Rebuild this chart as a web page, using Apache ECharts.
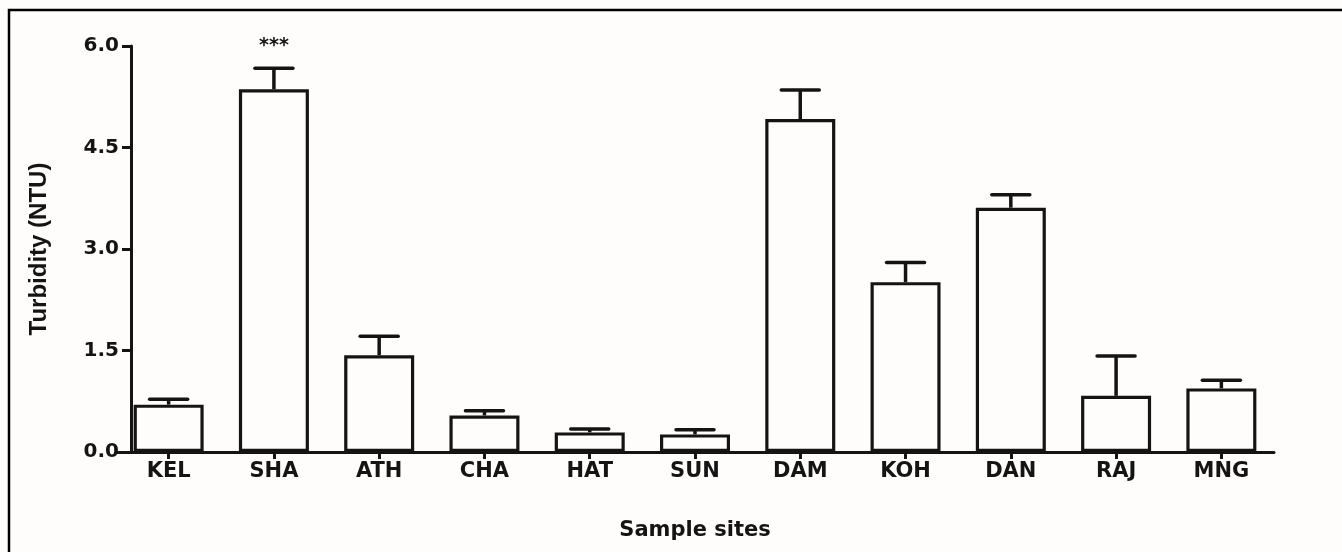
<!DOCTYPE html>
<html>
<head>
<meta charset="utf-8">
<script src="https://cdn.jsdelivr.net/npm/echarts@6/dist/echarts.min.js"></script>
<style>
  html, body { margin: 0; padding: 0; background: #fefdfb; }
  #chart { width: 1342px; height: 552px; }
</style>
</head>
<body>
<div id="chart"></div>
<script>
const categories = ['KEL', 'SHA', 'ATH', 'CHA', 'HAT', 'SUN', 'DAM', 'KOH', 'DAN', 'RAJ', 'MNG'];
const turbidity = [0.70, 5.36, 1.43, 0.54, 0.29, 0.26, 4.92, 2.51, 3.61, 0.83, 0.94];
const errors = [0.08, 0.31, 0.28, 0.07, 0.05, 0.07, 0.43, 0.29, 0.19, 0.59, 0.12];
const significance = ['', '***', '', '', '', '', '', '', '', '', ''];
const yTicks = [0, 1.5, 3.0, 4.5, 6.0];

const ink = '#141414';
const wideFont = 'DejaVu Sans';

const errData = categories.map((c, i) => [i, turbidity[i], errors[i], significance[i]]);

const chart = echarts.init(document.getElementById('chart'));
chart.setOption({
  backgroundColor: '#fefdfb',
  animation: false,
  graphic: [{
    type: 'rect',
    shape: { x: 9, y: 10, width: 1400, height: 600 },
    style: { fill: 'none', stroke: '#000', lineWidth: 2.5 },
    silent: true
  }],
  grid: { left: 116, right: 68, top: 46, bottom: 100, containLabel: false },
  xAxis: {
    type: 'category',
    data: categories,
    name: 'Sample sites',
    nameLocation: 'middle',
    nameGap: 68,
    nameTextStyle: { fontFamily: wideFont, fontWeight: 'bold', fontSize: 21, color: ink },
    axisLine: { lineStyle: { color: ink, width: 3 } },
    axisTick: { show: true, alignWithLabel: true, length: 7, lineStyle: { color: ink, width: 3 } },
    axisLabel: { fontFamily: wideFont, fontWeight: 'bold', fontSize: 21, color: ink, margin: 9 },
    splitLine: { show: false }
  },
  yAxis: {
    type: 'value',
    min: yTicks[0],
    max: yTicks[yTicks.length - 1],
    interval: yTicks[1] - yTicks[0],
    offset: -15,
    name: 'Turbidity (NTU)',
    nameLocation: 'middle',
    nameGap: 80,
    nameRotate: 90,
    nameTextStyle: { fontFamily: 'Liberation Sans', fontWeight: 'bold', fontSize: 24, color: ink },
    axisLine: { show: true, lineStyle: { color: ink, width: 3 } },
    axisTick: { show: true, length: 9, lineStyle: { color: ink, width: 3 } },
    axisLabel: {
      fontFamily: wideFont, fontWeight: 'bold', fontSize: 20, color: ink, margin: 12,
      formatter: v => v.toFixed(1)
    },
    splitLine: { show: false }
  },
  series: [
    {
      type: 'custom',
      data: errData,
      z: 1,
      renderItem: function (params, api) {
        const i = api.value(0);
        const v = api.value(1);
        const e = api.value(2);
        const sig = errData[params.dataIndex][3];
        const base = api.coord([i, v]);
        const top = api.coord([i, v + e]);
        const half = 19;
        const children = [
          { type: 'line', shape: { x1: base[0], y1: base[1], x2: top[0], y2: top[1] },
            style: { stroke: ink, lineWidth: 3.5 } },
          { type: 'line', shape: { x1: top[0] - half, y1: top[1], x2: top[0] + half, y2: top[1] },
            style: { stroke: ink, lineWidth: 3.5, lineCap: 'round' } }
        ];
        if (sig) {
          children.push({ type: 'text', x: top[0], y: top[1] - 22,
            style: { text: sig, fontFamily: wideFont, fontWeight: 'bold', fontSize: 19, fill: ink,
              align: 'center', verticalAlign: 'middle' } });
        }
        return { type: 'group', children: children };
      }
    },
    {
      type: 'bar',
      data: turbidity,
      barWidth: 70,
      z: 2,
      itemStyle: { color: '#fefdfb', borderColor: ink, borderWidth: 3.2 }
    }
  ]
});
</script>
</body>
</html>
